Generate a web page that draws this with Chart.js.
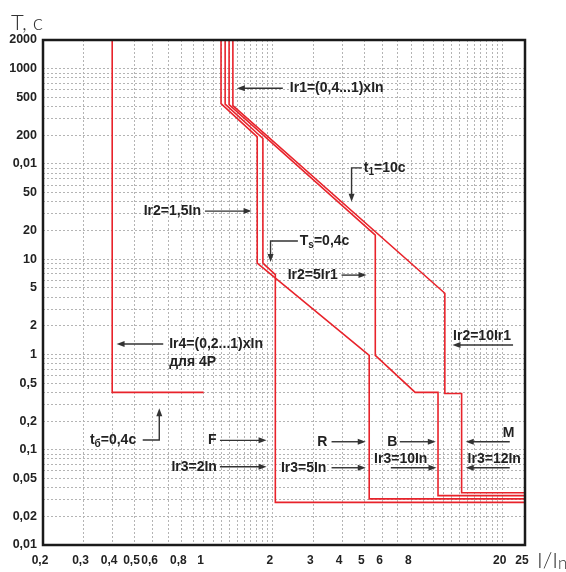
<!DOCTYPE html>
<html>
<head>
<meta charset="utf-8">
<script src="https://cdn.jsdelivr.net/npm/chart.js@4.4.0/dist/chart.umd.min.js"></script>
<style>
  html, body { margin: 0; padding: 0; background: #fff; }
</style>
</head>
<body>
<canvas id="chart" width="566" height="572"></canvas>
<script>
// Grille et graduations
const xGridValues = [0.2, 0.3, 0.4, 0.5, 0.6, 0.7, 0.8, 0.9, 1,
  1.1, 1.2, 1.3, 1.4, 1.5, 1.6, 1.7, 1.8, 1.9, 2,
  3, 4, 5, 6, 7, 8, 9, 10, 11, 12, 13, 14, 15, 16, 17, 18, 19, 20, 25];
const xTickValues = [0.2, 0.3, 0.4, 0.5, 0.6, 0.8, 1, 2, 3, 4, 5, 6, 8, 20, 25];
const xTickText = ['0,2', '0,3', '0,4', '0,5', '0,6', '0,8', '1', '2', '3', '4', '5', '6', '8', '20', '25'];

const yGridValues = [0.01, 0.02, 0.03, 0.04, 0.05, 0.06, 0.07, 0.08, 0.09,
  0.1, 0.2, 0.3, 0.4, 0.5, 0.6, 0.7, 0.8, 0.9,
  1, 2, 3, 4, 5, 6, 7, 8, 9,
  10, 20, 30, 40, 50, 60, 70, 80, 90,
  100, 200, 300, 400, 500, 600, 700, 800, 900,
  1000, 2000];
const yTickValues = [2000, 1000, 500, 200, 100, 50, 20, 10, 5, 2, 1, 0.5, 0.2, 0.1, 0.05, 0.02, 0.01];
const yTickText = ['2000', '1000', '500', '200', '0,01', '50', '20', '10', '5', '2', '1', '0,5', '0,2', '0,1', '0,05', '0,02', '0,01'];

// Courbes (I/In, T en s)
const ir4I = [0.4, 0.4, 1.0];
const ir4T = [2000, 0.4, 0.4];
const curveRI = [1.19, 1.19, 1.71, 1.71, 5.25, 5.25, 25];
const curveRT = [2000, 430, 192, 9.1, 0.98, 0.0305, 0.0305];
const curveFI = [1.24, 1.24, 1.81, 1.81, 2.05, 2.05, 25];
const curveFT = [2000, 425, 185, 9.1, 6.9, 0.028, 0.028];
const curveBI = [1.29, 1.29, 5.58, 5.58, 8.32, 10.46, 10.46, 25];
const curveBT = [2000, 420, 17.9, 0.98, 0.4, 0.4, 0.033, 0.033];
const curveMI = [1.34, 1.34, 11.2, 11.2, 13.25, 13.25, 25];
const curveMT = [2000, 410, 4.39, 0.389, 0.389, 0.0353, 0.0353];

// Annotations : texte (~ délimite l'indice) et flèches (dernier point = pointe)
const notes = [
  { text: 'Ir1=(0,4...1)xIn', x: 2.37, y: 624, align: 'left' },
  { text: 't~1~=10с', x: 4.97, y: 91, align: 'left' },
  { text: 'Ir2=1,5In', x: 0.973, y: 32, align: 'right' },
  { text: 'T~s~=0,4с', x: 2.62, y: 15.5, align: 'left' },
  { text: 'Ir2=5Ir1', x: 2.32, y: 6.81, align: 'left' },
  { text: 'Ir2=10Ir1', x: 12.16, y: 1.55, align: 'left' },
  { text: 'Ir4=(0,2...1)xIn', x: 0.708, y: 1.286, align: 'left' },
  { text: 'для 4P', x: 0.708, y: 0.838, align: 'left' },
  { text: 't~б~=0,4с', x: 0.32, y: 0.1264, align: 'left' },
  { text: 'F', x: 1.091, y: 0.1255, align: 'center' },
  { text: 'Ir3=2In', x: 1.142, y: 0.0663, align: 'right' },
  { text: 'R', x: 3.28, y: 0.1213, align: 'center' },
  { text: 'Ir3=5In', x: 3.42, y: 0.0647, align: 'right' },
  { text: 'B', x: 6.62, y: 0.1213, align: 'center' },
  { text: 'Ir3=10In', x: 7.2, y: 0.0793, align: 'center' },
  { text: 'M', x: 21.2, y: 0.1486, align: 'center' },
  { text: 'Ir3=12In', x: 18.37, y: 0.0793, align: 'center' }
];
const arrows = [
  [[2.21, 624], [1.395, 624]],
  [[4.88, 91], [4.4, 91], [4.4, 40]],
  [[1.013, 32], [1.616, 32]],
  [[2.57, 15.5], [1.954, 15.5], [1.954, 9.33]],
  [[3.98, 6.81], [5.11, 6.81]],
  [[22.18, 1.255], [12.09, 1.255]],
  [[0.667, 1.286], [0.418, 1.286]],
  [[0.543, 0.1264], [0.641, 0.1264], [0.641, 0.272]],
  [[1.177, 0.1255], [1.878, 0.1255]],
  [[1.177, 0.0663], [1.878, 0.0663]],
  [[3.6, 0.1213], [5.07, 0.1213]],
  [[3.6, 0.0647], [5.07, 0.0647]],
  [[7.13, 0.1213], [10.23, 0.1213]],
  [[6.52, 0.0647], [10.3, 0.0647]],
  [[21.46, 0.1213], [13.81, 0.1213]],
  [[21.46, 0.0647], [13.81, 0.0647]]
];

const RED = '#e8232b';
const LABEL_FONT = '"Liberation Sans", Arial, sans-serif';
const TITLE_FONT = 'Lato, "Open Sans", sans-serif';

const toPoints = (xs, ys) => xs.map((v, i) => ({ x: v, y: ys[i] }));
const sameValue = (a, b) => Math.abs(Math.log10(a) - Math.log10(b)) < 1e-6;
const labelFor = (values, texts, v) => {
  const i = values.findIndex(t => sameValue(t, v));
  return i >= 0 ? texts[i] : '';
};

const curve = (xs, ys) => ({
  data: toPoints(xs, ys),
  showLine: true,
  borderColor: RED,
  borderWidth: 1.6,
  pointRadius: 0,
  tension: 0,
  fill: false
});

// Je dessine un texte avec un éventuel indice
const drawRich = (ctx, text, px, py, align) => {
  const parts = text.split('~').map((s, i) => ({ s, sub: i % 2 === 1 }));
  const fontFor = p => `bold ${p.sub ? 10 : 14}px ${LABEL_FONT}`;
  let width = 0;
  parts.forEach(p => { ctx.font = fontFor(p); p.w = ctx.measureText(p.s).width; width += p.w; });
  let cx = align === 'left' ? px : align === 'right' ? px - width : px - width / 2;
  parts.forEach(p => {
    ctx.font = fontFor(p);
    ctx.fillText(p.s, cx, p.sub ? py + 4 : py);
    cx += p.w;
  });
};

const notesPlugin = {
  id: 'notes',
  afterDatasetsDraw(chart) {
    const { ctx, chartArea: a, scales: { x, y } } = chart;
    ctx.save();

    // cadre
    ctx.strokeStyle = '#1a1a1a';
    ctx.lineWidth = 2.5;
    ctx.strokeRect(a.left, a.top, a.right - a.left, a.bottom - a.top);

    // flèches
    ctx.strokeStyle = '#333';
    ctx.fillStyle = '#333';
    ctx.lineWidth = 1.4;
    arrows.forEach(pts => {
      const p = pts.map(([vx, vy]) => [x.getPixelForValue(vx), y.getPixelForValue(vy)]);
      const [x1, y1] = p[p.length - 2];
      const [x2, y2] = p[p.length - 1];
      const ang = Math.atan2(y2 - y1, x2 - x1);
      const c = Math.cos(ang), s = Math.sin(ang);
      ctx.beginPath();
      p.forEach(([px, py], i) => {
        if (i === 0) ctx.moveTo(px, py);
        else if (i === p.length - 1) ctx.lineTo(px - 6 * c, py - 6 * s);
        else ctx.lineTo(px, py);
      });
      ctx.stroke();
      ctx.beginPath();
      ctx.moveTo(x2, y2);
      ctx.lineTo(x2 - 8 * c + 3 * s, y2 - 8 * s - 3 * c);
      ctx.lineTo(x2 - 8 * c - 3 * s, y2 - 8 * s + 3 * c);
      ctx.closePath();
      ctx.fill();
    });

    // textes
    ctx.fillStyle = '#222';
    ctx.textBaseline = 'middle';
    ctx.textAlign = 'left';
    notes.forEach(n => drawRich(ctx, n.text, x.getPixelForValue(n.x), y.getPixelForValue(n.y), n.align));

    // titres des axes
    ctx.fillStyle = '#333';
    ctx.textBaseline = 'alphabetic';
    ctx.font = `300 22px ${TITLE_FONT}`;
    ctx.fillText('T, с', 11, 30);
    ctx.font = `300 22px ${TITLE_FONT}`;
    ctx.fillText('I/I', 537, 568);
    const w = ctx.measureText('I/I').width;
    ctx.font = `300 17px ${TITLE_FONT}`;
    ctx.fillText('n', 537 + w, 569);
    ctx.restore();
  }
};

new Chart(document.getElementById('chart'), {
  type: 'scatter',
  data: {
    datasets: [
      curve(ir4I, ir4T),
      curve(curveRI, curveRT),
      curve(curveFI, curveFT),
      curve(curveBI, curveBT),
      curve(curveMI, curveMT)
    ]
  },
  options: {
    responsive: false,
    animation: false,
    layout: { padding: { top: 40, right: 41, left: 0, bottom: 0 } },
    plugins: { legend: { display: false }, tooltip: { enabled: false } },
    scales: {
      x: {
        type: 'logarithmic',
        min: 0.2,
        max: 25,
        afterBuildTicks: s => { s.ticks = xGridValues.map(v => ({ value: v })); },
        afterFit: s => { s.height = 27; s.paddingLeft = 0; s.paddingRight = 0; },
        ticks: {
          autoSkip: false,
          maxRotation: 0,
          padding: 8,
          labelOffset: -3,
          color: '#222',
          font: { family: LABEL_FONT, size: 12, weight: 'bold' },
          callback: v => labelFor(xTickValues, xTickText, v)
        },
        grid: { color: '#b4b4b4', lineWidth: 1, drawTicks: false },
        border: { display: false, dash: [2, 2] }
      },
      y: {
        type: 'logarithmic',
        min: 0.01,
        max: 2000,
        afterBuildTicks: s => { s.ticks = yGridValues.map(v => ({ value: v })); },
        afterFit: s => { s.width = 43; s.paddingTop = 0; s.paddingBottom = 0; },
        ticks: {
          autoSkip: false,
          padding: 6,
          color: '#222',
          font: { family: LABEL_FONT, size: 12.5, weight: 'bold' },
          callback: v => labelFor(yTickValues, yTickText, v)
        },
        grid: { color: '#b4b4b4', lineWidth: 1, drawTicks: false },
        border: { display: false, dash: [2, 2] }
      }
    }
  },
  plugins: [notesPlugin]
});
</script>
</body>
</html>
